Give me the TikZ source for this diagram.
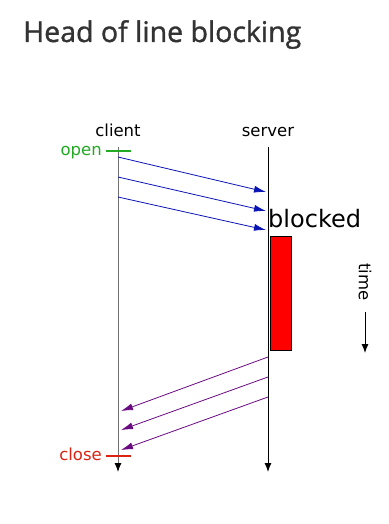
\documentclass[tikz,border=0pt]{standalone}
\usepackage{fontspec}
\setmainfont{DejaVu Sans}
\newfontfamily\titlefont[FakeBold=1.2]{Open Sans}
\usetikzlibrary{arrows.meta}
\definecolor{titlegray}{HTML}{333333}
\definecolor{opengreen}{HTML}{22AA22}
\definecolor{closered}{HTML}{DD2211}
\definecolor{reqblue}{HTML}{0A14B4}
\definecolor{resppurple}{HTML}{6A0A80}
\definecolor{linegray}{HTML}{707070}
\tikzset{
  lbl/.style={inner sep=0pt, font=\fontsize{16.5}{18}\selectfont},
  lifeline/.style={line width=1pt, -{Latex[length=9pt,width=7pt,black]}},
  req/.style={reqblue, line width=0.8pt, -{Latex[length=12pt,width=7pt]}},
  resp/.style={resppurple, line width=0.8pt, -{Latex[length=12pt,width=7pt]}},
  tick/.style={line width=1.3pt},
}
\begin{document}
\begin{tikzpicture}[x=1pt,y=-1pt]
\useasboundingbox (0,0) rectangle (388,524);
% title
\node[anchor=base west, inner sep=0pt, text=titlegray, font=\titlefont\fontsize{28.5}{31}\selectfont] (title) at (23,42) {Head of line blocking};
% lifeline labels
\node[lbl, anchor=base] (client) at (118,136) {client};
\node[lbl, anchor=base] (server) at (268,136) {server};
% lifeline endpoints
\coordinate (ctop) at (118,147);
\coordinate (cbot) at (118,472);
\coordinate (stop) at (268,147);
\coordinate (sbot) at (268,472);
\draw[lifeline, linegray] (ctop) -- (cbot);
\draw[lifeline] (stop) -- (sbot);
% open / close ticks
\coordinate (ol) at (106,151);
\coordinate (or) at (131,151);
\draw[tick, opengreen] (ol) -- (or);
\node[lbl, anchor=base east, text=opengreen] (open) at (102,155.5) {open};
\coordinate (cl) at (106,456);
\coordinate (cr) at (131,456);
\draw[tick, closered] (cl) -- (cr);
\node[lbl, anchor=base east, text=closered] (close) at (102,460) {close};
% requests
\coordinate (r1a) at (118,157);
\coordinate (r1b) at (266,192);
\coordinate (r2a) at (118,177);
\coordinate (r2b) at (266,211);
\coordinate (r3a) at (118,197);
\coordinate (r3b) at (266,230);
\draw[req] (r1a) -- (r1b);
\draw[req] (r2a) -- (r2b);
\draw[req] (r3a) -- (r3b);
% blocked
\node[anchor=base west, inner sep=0pt, font=\fontsize{24}{28}\selectfont] (blocked) at (268,227) {blocked};
\node[draw=black, fill=red, line width=0.7pt, minimum width=20.5pt, minimum height=114pt, inner sep=0pt, anchor=north west] (busy) at (270,236) {};
% time
\node[lbl, rotate=-90, anchor=center] (time) at (365,282) {time};
\coordinate (ta) at (365,312);
\coordinate (tb) at (365,353);
\draw[line width=0.9pt, -{Latex[length=9pt,width=7pt]}] (ta) -- (tb);
% responses
\coordinate (p1a) at (268,357);
\coordinate (p1b) at (121,411);
\coordinate (p2a) at (268,377);
\coordinate (p2b) at (121,430);
\coordinate (p3a) at (268,397);
\coordinate (p3b) at (121,450);
\draw[resp] (p1a) -- (p1b);
\draw[resp] (p2a) -- (p2b);
\draw[resp] (p3a) -- (p3b);
\end{tikzpicture}
\end{document}
